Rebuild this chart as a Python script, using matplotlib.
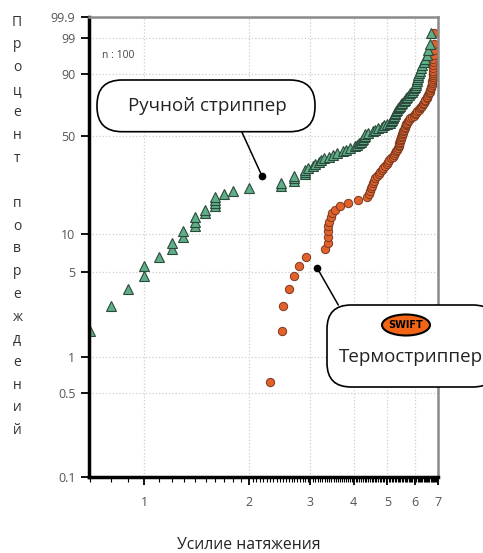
import numpy as np
import matplotlib
matplotlib.use('Agg')
import matplotlib.pyplot as plt
from matplotlib.patches import FancyBboxPatch, Ellipse, ConnectionPatch
from matplotlib.ticker import FixedLocator, NullLocator, FixedFormatter

plt.rcParams['font.family'] = ['Open Sans', 'DejaVu Sans']

# plotting positions, % (n = 100)
percent = [0.62, 1.62, 2.62, 3.62, 4.61, 5.61, 6.61, 7.61, 8.60, 9.60,
           10.60, 11.60, 12.59, 13.59, 14.59, 15.59, 16.58, 17.58, 18.58, 19.58,
           20.57, 21.57, 22.57, 23.57, 24.56, 25.56, 26.56, 27.56, 28.55, 29.55,
           30.55, 31.55, 32.54, 33.54, 34.54, 35.54, 36.53, 37.53, 38.53, 39.53,
           40.52, 41.52, 42.52, 43.52, 44.51, 45.51, 46.51, 47.51, 48.50, 49.50,
           50.50, 51.50, 52.49, 53.49, 54.49, 55.49, 56.48, 57.48, 58.48, 59.48,
           60.47, 61.47, 62.47, 63.47, 64.46, 65.46, 66.46, 67.46, 68.45, 69.45,
           70.45, 71.45, 72.44, 73.44, 74.44, 75.44, 76.43, 77.43, 78.43, 79.43,
           80.42, 81.42, 82.42, 83.42, 84.41, 85.41, 86.41, 87.41, 88.40, 89.40,
           90.40, 91.40, 92.39, 93.39, 94.39, 95.39, 96.38, 97.38, 98.38, 99.38]

# pull force, manual stripper
manual_force = [0.65, 0.70, 0.80, 0.90, 1.00, 1.00, 1.10, 1.20, 1.20, 1.29,
                1.29, 1.40, 1.40, 1.40, 1.49, 1.49, 1.60, 1.60, 1.60, 1.60,
                1.69, 1.80, 2.00, 2.47, 2.47, 2.69, 2.69, 2.69, 2.89, 2.89,
                2.89, 2.95, 3.05, 3.10, 3.18, 3.23, 3.29, 3.40, 3.48, 3.58,
                3.72, 3.80, 3.90, 4.03, 4.10, 4.15, 4.20, 4.22, 4.25, 4.27,
                4.30, 4.30, 4.40, 4.55, 4.60, 4.70, 4.83, 4.90, 5.00, 5.07,
                5.12, 5.15, 5.17, 5.19, 5.21, 5.24, 5.27, 5.30, 5.33, 5.36,
                5.38, 5.42, 5.47, 5.52, 5.57, 5.61, 5.65, 5.69, 5.75, 5.80,
                5.87, 5.94, 5.97, 6.00, 6.03, 6.05, 6.07, 6.09, 6.10, 6.12,
                6.18, 6.22, 6.26, 6.30, 6.36, 6.43, 6.48, 6.52, 6.61, 6.66]

# pull force, thermal stripper
thermo_force = [2.30, 2.49, 2.50, 2.60, 2.70, 2.79, 2.91, 3.31, 3.37, 3.37,
                3.38, 3.38, 3.40, 3.45, 3.46, 3.54, 3.65, 3.85, 4.11, 4.36,
                4.43, 4.46, 4.49, 4.52, 4.55, 4.57, 4.60, 4.66, 4.72, 4.76,
                4.82, 4.86, 4.92, 4.98, 5.02, 5.06, 5.12, 5.19, 5.22, 5.26,
                5.30, 5.33, 5.35, 5.38, 5.39, 5.41, 5.43, 5.45, 5.46, 5.48,
                5.50, 5.52, 5.53, 5.55, 5.59, 5.61, 5.63, 5.64, 5.66, 5.70,
                5.74, 5.77, 5.81, 5.89, 5.95, 6.01, 6.05, 6.09, 6.15, 6.22,
                6.26, 6.30, 6.33, 6.37, 6.41, 6.43, 6.48, 6.50, 6.52, 6.57,
                6.61, 6.64, 6.66, 6.68, 6.70, 6.73, 6.73, 6.74, 6.74, 6.75,
                6.76, 6.76, 6.77, 6.77, 6.78, 6.78, 6.79, 6.79, 6.80, 6.82]

ytick_vals = [0.1, 0.5, 1, 5, 10, 50, 90, 99, 99.9]
ytick_labels = ['0.1', '0.5', '1', '5', '10', '50', '90', '99', '99.9']
xtick_vals = [1, 2, 3, 4, 5, 6, 7]
xtick_labels = ['1', '2', '3', '4', '5', '6', '7']

manual_label = 'Ручной стриппер'
thermo_label = 'Термостриппер'
manual_pointer = (2.18, 27.6)
thermo_pointer = (3.14, 5.37)


def weib(p):
    p = np.clip(np.asarray(p, dtype=float) / 100.0, 1e-9, 1 - 1e-12)
    return np.log(-np.log(1 - p))


def weib_inv(w):
    return 100.0 * (1 - np.exp(-np.exp(w)))


W, H = 483, 553
fig = plt.figure(figsize=(W / 100, H / 100), dpi=100)
ax = fig.add_axes([89.3 / W, 1 - 476.7 / H, (438.3 - 89.3) / W, (476.7 - 16.7) / H])
ax.set_xscale('log')
ax.set_yscale('function', functions=(weib, weib_inv))
ax.set_xlim(0.695, 7.0)
ax.set_ylim(0.1, 99.9)

ax.yaxis.set_major_locator(FixedLocator(ytick_vals))
ax.yaxis.set_major_formatter(FixedFormatter(ytick_labels))
ax.yaxis.set_minor_locator(NullLocator())
ax.xaxis.set_major_locator(FixedLocator(xtick_vals))
ax.xaxis.set_major_formatter(FixedFormatter(xtick_labels))
minor_x = list(np.arange(0.7, 2.0, 0.1)) + list(np.arange(2.05, 7.0, 0.05))
ax.xaxis.set_minor_locator(FixedLocator(minor_x))
ax.xaxis.set_minor_formatter(FixedFormatter([''] * len(minor_x)))

ax.grid(True, which='major', color='#cfcfcf', linestyle=':', linewidth=0.9)
ax.tick_params(axis='x', which='major', direction='out', length=6, width=1.3,
               labelsize=9, labelcolor='#555555', pad=8)
ax.tick_params(axis='x', which='minor', direction='out', length=3.5, width=0.8)
ax.tick_params(axis='y', which='major', direction='out', length=6, width=1.3,
               labelsize=9, labelcolor='#555555', pad=4)

for side in ['left', 'bottom']:
    ax.spines[side].set_linewidth(2.5)
    ax.spines[side].set_color('black')
for side in ['top', 'right']:
    ax.spines[side].set_linewidth(1.8)
    ax.spines[side].set_color('#8a8a8a')

ax.plot(thermo_force, percent, 'o', ls='none', ms=6, mfc='#e2612a', mec='#7a3a22', mew=0.7)
ax.plot(manual_force, percent, '^', ls='none', ms=7.5, mfc='#5fae88', mec='#2c4a3c', mew=0.8)

ax.plot(*manual_pointer, 'o', color='black', ms=4.5, zorder=6)
ax.plot(*thermo_pointer, 'o', color='black', ms=4.5, zorder=6)

ax.text(0.035, 0.915, 'n : 100', transform=ax.transAxes, fontsize=7.5, color='#444444',
        ha='left', va='center')

# overlay for callouts, in pixel units
ov = fig.add_axes([0, 0, 1, 1])
ov.set_xlim(0, W)
ov.set_ylim(0, H)
ov.set_axis_off()
ov.set_zorder(5)

box1 = FancyBboxPatch((97, H - 131.7), 218, 51.7, boxstyle='round,pad=0,rounding_size=25',
                      fc='white', ec='black', lw=1.2)
ov.add_patch(box1)
ov.text(207, H - 106, manual_label, ha='center', va='center', fontsize=13.5, color='#222222')

box2 = FancyBboxPatch((327, H - 387), 170, 82, boxstyle='round,pad=0,rounding_size=24',
                      fc='white', ec='black', lw=1.2)
ov.add_patch(box2)
ov.text(411, H - 357, thermo_label, ha='center', va='center', fontsize=13.5, color='#222222')
ov.add_patch(Ellipse((406, H - 325), 48, 21, fc='#f26516', ec='black', lw=1.5))
ov.text(406, H - 325.5, 'SWIFT', ha='center', va='center', fontsize=7, fontweight='bold',
        color='black', family='DejaVu Sans')

con1 = ConnectionPatch(xyA=manual_pointer, coordsA=ax.transData,
                       xyB=(241.7, H - 131.7), coordsB=ov.transData, color='black', lw=1.1)
con2 = ConnectionPatch(xyA=thermo_pointer, coordsA=ax.transData,
                       xyB=(338.3, H - 305), coordsB=ov.transData, color='black', lw=1.1)
fig.add_artist(con1)
fig.add_artist(con2)

# vertical y label, one character per line
ylabel_chars = list('Процент') + [''] + list('повреждений')
for k, ch in enumerate(ylabel_chars):
    fig.text(17 / W, 1 - (22 + 22.7 * k) / H, ch, ha='center', va='center',
             fontsize=10, color='#333333')

fig.text(249 / W, 1 - 545 / H, 'Усилие натяжения', ha='center', va='center',
         fontsize=11.3, color='#222222')

fig.savefig('out.png', dpi=100)
